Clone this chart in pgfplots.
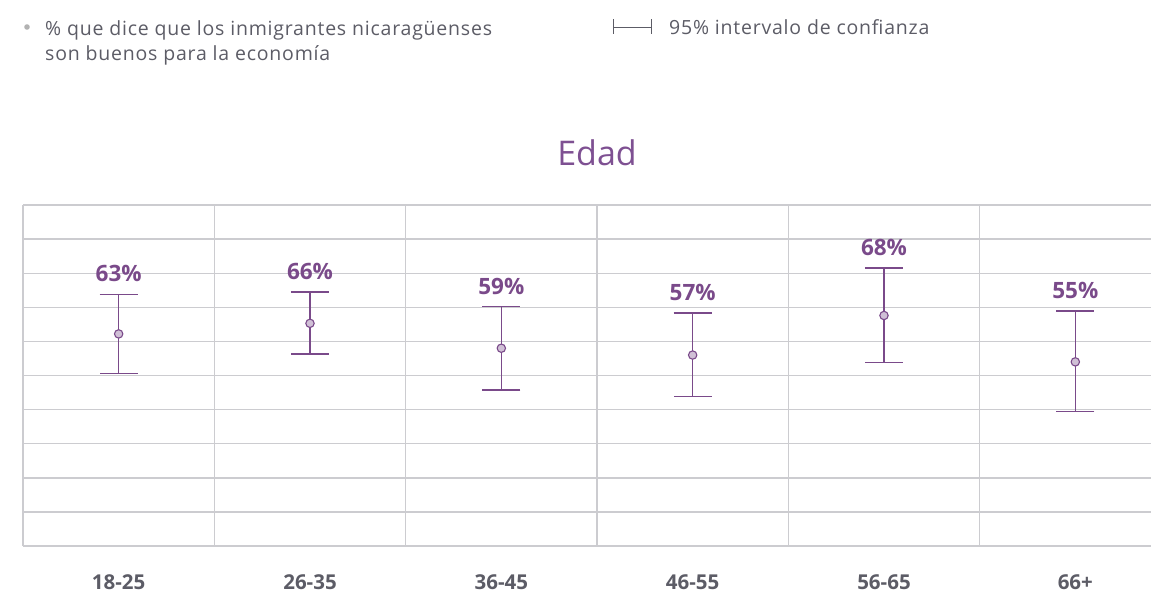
\documentclass[border=0pt]{standalone}
\usepackage{pgfplots}
\pgfplotsset{compat=1.18}
\usepackage{fontspec}
\setmainfont{Open Sans}
\newfontfamily\legfont[LetterSpace=4]{Open Sans}
\definecolor{purp}{RGB}{122,74,138}
\definecolor{purpt}{RGB}{126,80,146}
\definecolor{txtgray}{RGB}{92,92,102}
\definecolor{gridgray}{RGB}{204,204,208}
\begin{document}
\begin{tikzpicture}
\useasboundingbox (0,0) rectangle (1151bp,-594bp);
% legend
\fill[gray!60] (27bp,-27bp) circle (2.8bp);
\node[anchor=base west, inner sep=0, text=txtgray, font=\legfont\fontsize{19.5bp}{25bp}\selectfont] at (45bp,-35bp) {\% que dice que los inmigrantes nicaragüenses};
\node[anchor=base west, inner sep=0, text=txtgray, font=\legfont\fontsize{19.5bp}{25bp}\selectfont] at (45bp,-60bp) {son buenos para la economía};
\draw[txtgray, line width=1.8bp] (613.5bp,-19bp) -- (613.5bp,-34bp);
\draw[txtgray, line width=1.8bp] (651.5bp,-19bp) -- (651.5bp,-34bp);
\draw[txtgray, line width=0.9bp] (613.5bp,-27bp) -- (651.5bp,-27bp);
\node[anchor=base west, inner sep=0, text=txtgray, font=\legfont\fontsize{19.5bp}{25bp}\selectfont] at (669bp,-34bp) {95\% intervalo de confianza};
% title
\node[anchor=base, inner sep=0, text=purpt, font=\fontsize{34bp}{40bp}\selectfont] at (597bp,-165.7bp) {Edad};
\begin{axis}[
  at={(23bp,-546bp)}, anchor=south west,
  scale only axis, width=1148bp, height=341bp,
  xmin=-0.5, xmax=5.5, ymin=0, ymax=100,
  clip=false,
  axis x line*=bottom, axis y line*=left,
  axis line style={draw=none},
  tick style={draw=none},
  xtick={0,1,2,3,4,5},
  xticklabels={18-25,26-35,36-45,46-55,56-65,66+},
  minor xtick={-0.5,0.5,1.5,2.5,3.5,4.5},
  xminorgrids=true,
  ytick={0,10,...,100},
  yticklabels={},
  ymajorgrids=true,
  major grid style={gridgray, line width=1.4bp},
  minor grid style={gridgray, line width=1.4bp},
  xticklabel style={anchor=base, inner sep=0, yshift=-43bp, text=txtgray, font=\fontsize{20.5bp}{22bp}\selectfont\bfseries},
]
\addplot[draw=none, mark=*, mark size=4.2bp, mark options={draw=purp, fill=purp!35!white, line width=1.1bp},
  error bars/.cd, y dir=both, y explicit,
  error bar style={purp, line width=1.5bp},
  error mark options={rotate=90, purp, mark size=19bp, line width=1.5bp}]
  coordinates {
  (0,62.2) += (0,11.6) -= (0,11.6)
  (1,65.3) += (0,9.2) -= (0,9.0)
  (2,58.0) += (0,12.2) -= (0,12.3)
  (3,56.0) += (0,12.3) -= (0,12.2)
  (4,67.6) += (0,14.0) -= (0,13.8)
  (5,54.0) += (0,14.9) -= (0,14.6)
  };
\addplot[draw=none, mark=none, nodes near coords, point meta=explicit symbolic,
  every node near coord/.append style={anchor=base, inner sep=0, yshift=12.5bp, text=purp, font=\fontsize{22.5bp}{26bp}\selectfont\bfseries}]
  coordinates {
  (0,73.8) [63\%]
  (1,74.5) [66\%]
  (2,70.2) [59\%]
  (3,68.3) [57\%]
  (4,81.6) [68\%]
  (5,68.9) [55\%]
  };
\end{axis}
\end{tikzpicture}
\end{document}
